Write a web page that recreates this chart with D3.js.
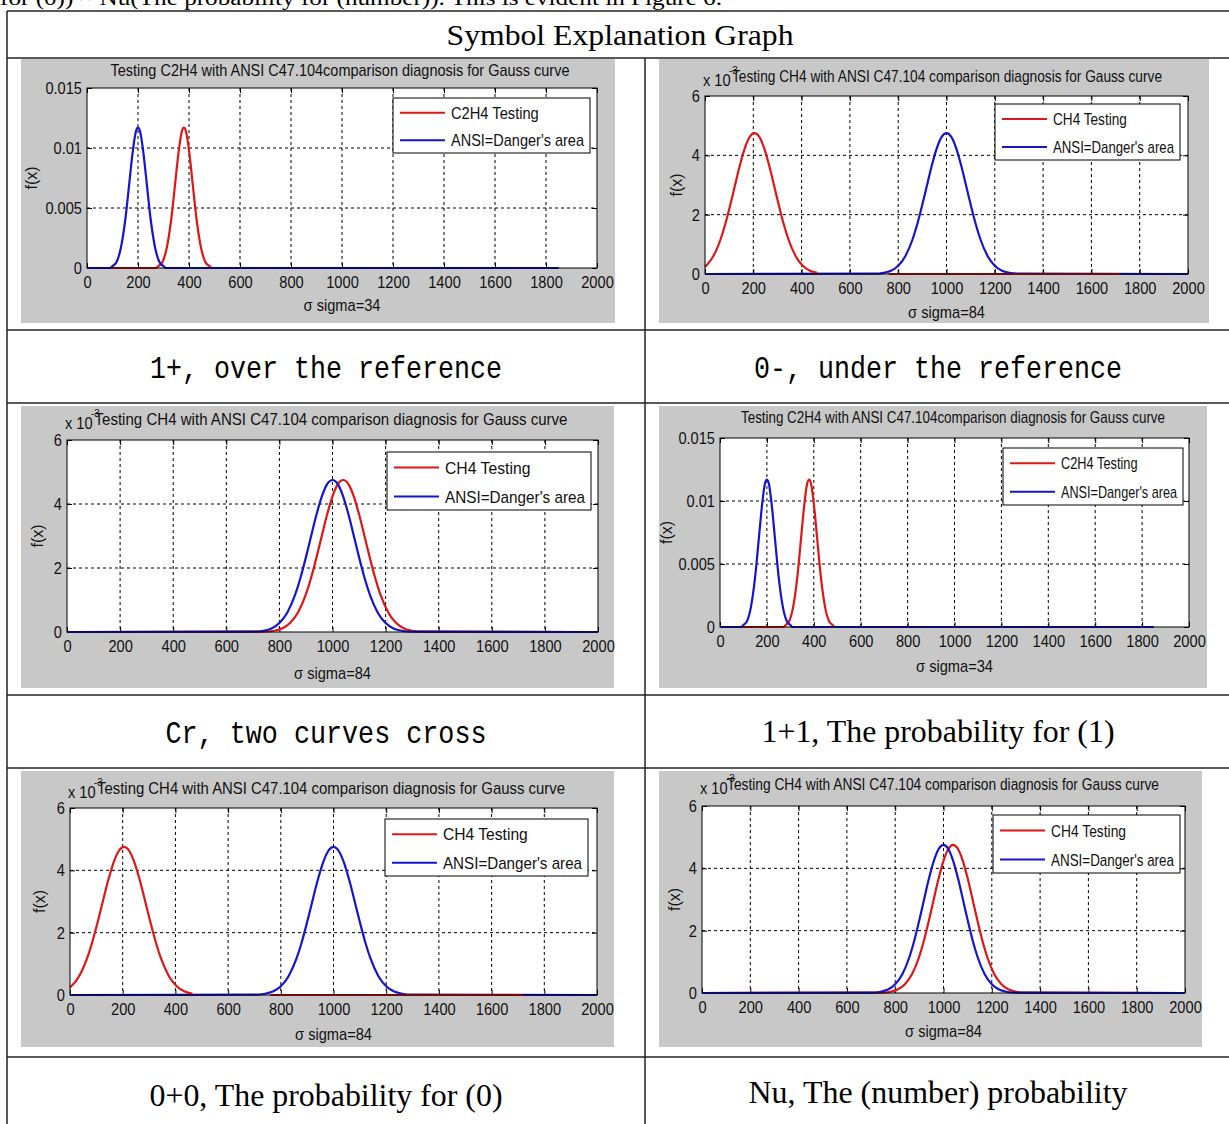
<!DOCTYPE html>
<html lang="en">
<head>
<meta charset="UTF-8">
<title>Symbol Explanation Graph</title>
<style>
  body { margin: 0; background: #fff; }
  svg { display: block; }
  .grid line { stroke: #000; stroke-width: 1; stroke-dasharray: 3,3; }
  .axis path { display: none; }
  .axis line { stroke: #000; }
  .axis text { font-family: "Liberation Sans", Arial, sans-serif; font-size: 17px; fill: #111; }
  .mtext { font-family: "Liberation Sans", Arial, sans-serif; fill: #111; }
  .serif { font-family: "Liberation Serif", "Times New Roman", serif; fill: #000; }
  .mono { font-family: "Liberation Mono", "DejaVu Sans Mono", monospace; fill: #000; }
</style>
</head>
<body>
<script src="https://cdn.jsdelivr.net/npm/d3@7"></script>
<script>
var width = 1229, height = 1124;

// axis ticks
var xTicks = [0, 200, 400, 600, 800, 1000, 1200, 1400, 1600, 1800, 2000];
var yTicksC2H4 = [0, 0.005, 0.01, 0.015];
var yTicksCH4 = [0, 2, 4, 6];   // x 10^-3

// C2H4, sigma = 34 : testing curve (red) and ANSI curve (blue)
var c2h4TestX = [0, 270, 280, 296, 312, 330, 346, 360, 372, 380, 388, 400, 414, 430, 448, 464, 480, 490, 670];
var c2h4TestY = [0, 0, 0.00016, 0.0005, 0.0016, 0.0040, 0.0071, 0.0098, 0.0114, 0.0117, 0.0114, 0.0098, 0.0071, 0.0040, 0.0016, 0.0005, 0.00016, 0, 0];
var c2h4AnsiX = [0, 90, 100, 116, 132, 150, 166, 180, 192, 200, 208, 220, 234, 250, 268, 284, 300, 310, 1850];
var c2h4AnsiY = [0, 0, 0.00016, 0.0005, 0.0016, 0.0040, 0.0071, 0.0098, 0.0114, 0.0117, 0.0114, 0.0098, 0.0071, 0.0040, 0.0016, 0.0005, 0.00016, 0, 0];

// CH4, sigma = 84 (values in 10^-3)
var ch4LowX = [0, 25, 45, 65, 85, 105, 121, 145, 165, 185, 205, 225, 245, 265, 289, 305, 325, 345, 375, 405, 435, 465, 470, 760, 1720];
var ch4LowY = [0.24, 0.48, 0.77, 1.18, 1.71, 2.34, 2.88, 3.68, 4.24, 4.62, 4.75, 4.62, 4.24, 3.68, 2.88, 2.34, 1.71, 1.18, 0.61, 0.28, 0.11, 0.04, null, 0, 0];
var ch4AnsiX = [0, 700, 740, 770, 800, 830, 860, 880, 900, 916, 940, 960, 980, 1000, 1020, 1040, 1060, 1084, 1100, 1120, 1140, 1170, 1200, 1230, 1260, 1300, 2000];
var ch4AnsiY = [0, 0.01, 0.04, 0.11, 0.28, 0.61, 1.18, 1.71, 2.34, 2.88, 3.68, 4.24, 4.62, 4.75, 4.62, 4.24, 3.68, 2.88, 2.34, 1.71, 1.18, 0.61, 0.28, 0.11, 0.04, 0.01, 0];
var ch4CrossX = [0, 740, 780, 810, 840, 870, 900, 920, 940, 956, 980, 1000, 1020, 1040, 1060, 1080, 1100, 1124, 1140, 1160, 1180, 1210, 1240, 1270, 1300, 1340, 2000];
var ch4CrossY = [0, 0.01, 0.04, 0.11, 0.28, 0.61, 1.18, 1.71, 2.34, 2.88, 3.68, 4.24, 4.62, 4.75, 4.62, 4.24, 3.68, 2.88, 2.34, 1.71, 1.18, 0.61, 0.28, 0.11, 0.04, 0.01, 0];

var titleC2H4 = 'Testing C2H4 with ANSI C47.104comparison diagnosis for Gauss curve';
var titleCH4 = 'Testing CH4 with ANSI C47.104 comparison diagnosis for Gauss curve';
var RED = '#e01515', BLUE = '#1515d0';

var svg = d3.select('body').append('svg').attr('width', width).attr('height', height);
svg.append('rect').attr('width', width).attr('height', height).attr('fill', '#fff');

// squeeze text horizontally, like the narrow MATLAB screenshot font
function condense(sel, k) {
  sel.each(function() {
    var n = this.getComputedTextLength();
    d3.select(this).attr('textLength', n * k).attr('lengthAdjust', 'spacingAndGlyphs');
  });
}

// sentence cut off at the top of the page
svg.append('text').attr('class', 'serif').attr('x', 0).attr('y', 5)
  .attr('font-size', 20).attr('textLength', 722).attr('lengthAdjust', 'spacingAndGlyphs')
  .text('for (0)) ~ Nu(The probability for (number)). This is evident in Figure 6.');

// table lines
var hLines = [11, 58, 330, 403, 695, 768, 1057];
svg.selectAll('.hline').data(hLines).enter().append('line')
  .attr('x1', 7).attr('x2', width).attr('y1', function(d){ return d; }).attr('y2', function(d){ return d; })
  .attr('stroke', '#222').attr('stroke-width', 1.5);
svg.append('line').attr('x1', 7).attr('x2', 7).attr('y1', 11).attr('y2', height).attr('stroke', '#222').attr('stroke-width', 1.5);
svg.append('line').attr('x1', 645).attr('x2', 645).attr('y1', 58).attr('y2', height).attr('stroke', '#222').attr('stroke-width', 1.5);

svg.append('text').attr('class', 'serif').attr('x', 620).attr('y', 45).attr('text-anchor', 'middle')
  .attr('font-size', 30).attr('textLength', 347).attr('lengthAdjust', 'spacingAndGlyphs')
  .text('Symbol Explanation Graph');

function cellText(txt, cx, by, len, cls) {
  svg.append('text').attr('class', cls).attr('x', cx - len / 2).attr('y', by)
    .attr('font-size', 32).attr('textLength', len).attr('lengthAdjust', 'spacingAndGlyphs')
    .text(txt);
}
cellText('1+, over the reference', 326, 378, 352, 'mono');
cellText('0-, under the reference', 938, 378, 368, 'mono');
cellText('Cr, two curves cross', 326, 743, 321, 'mono');
cellText('1+1, The probability for (1)', 938, 742, 353, 'serif');
cellText('0+0, The probability for (0)', 326, 1106, 353, 'serif');
cellText('Nu, The (number) probability', 938, 1103, 379, 'serif');

function drawPanel(p) {
  var g = svg.append('g');
  var a = p.axes;
  g.append('rect').attr('x', p.gray[0]).attr('y', p.gray[1])
    .attr('width', p.gray[2] - p.gray[0]).attr('height', p.gray[3] - p.gray[1]).attr('fill', '#c8c8c8');
  g.append('rect').attr('x', a[0]).attr('y', a[1]).attr('width', a[2] - a[0]).attr('height', a[3] - a[1]).attr('fill', '#fff');

  var x = d3.scaleLinear().domain([0, 2000]).range([a[0], a[2]]);
  var y = d3.scaleLinear().domain([0, d3.max(p.yTicks)]).range([a[3], a[1]]);

  var grid = g.append('g').attr('class', 'grid');
  grid.selectAll('.gx').data(xTicks.slice(1, -1)).enter().append('line')
    .attr('x1', function(d){ return x(d); }).attr('x2', function(d){ return x(d); })
    .attr('y1', a[1]).attr('y2', a[3]);
  grid.selectAll('.gy').data(p.yTicks.slice(1, -1)).enter().append('line')
    .attr('y1', function(d){ return y(d); }).attr('y2', function(d){ return y(d); })
    .attr('x1', a[0]).attr('x2', a[2]);

  var bx = g.append('g').attr('class', 'axis').attr('transform', 'translate(0,' + a[3] + ')')
    .call(d3.axisBottom(x).tickValues(xTicks).tickSize(-5).tickPadding(8).tickFormat(function(d){ return String(d); }));
  g.append('g').attr('class', 'axis').attr('transform', 'translate(0,' + a[1] + ')')
    .call(d3.axisTop(x).tickValues(xTicks).tickSize(-5).tickFormat(''));
  var ly = g.append('g').attr('class', 'axis').attr('transform', 'translate(' + a[0] + ',0)')
    .call(d3.axisLeft(y).tickValues(p.yTicks).tickSize(-5).tickPadding(5).tickFormat(function(d){ return String(d); }));
  g.append('g').attr('class', 'axis').attr('transform', 'translate(' + a[2] + ',0)')
    .call(d3.axisRight(y).tickValues(p.yTicks).tickSize(-5).tickFormat(''));
  condense(bx.selectAll('text'), 0.86);
  condense(ly.selectAll('text'), 0.86);

  var line = d3.line()
    .defined(function(d){ return d[1] != null; })
    .x(function(d){ return x(d[0]); })
    .y(function(d){ return y(d[1]); })
    .curve(d3.curveMonotoneX);
  p.series.forEach(function(s) {
    g.append('path').datum(d3.zip(s.xs, s.ys)).attr('d', line)
      .attr('fill', 'none').attr('stroke', s.color).attr('stroke-width', 2.2);
  });

  g.append('rect').attr('x', a[0]).attr('y', a[1]).attr('width', a[2] - a[0]).attr('height', a[3] - a[1])
    .attr('fill', 'none').attr('stroke', '#000').attr('stroke-width', 1);

  // title, labels
  g.append('text').attr('class', 'mtext').attr('x', p.titleX - p.titleLen / 2).attr('y', p.titleY + 6)
    .attr('font-size', 17).attr('textLength', p.titleLen).attr('lengthAdjust', 'spacingAndGlyphs').text(p.title);
  if (p.exp) {
    condense(g.append('text').attr('class', 'mtext').attr('x', a[0] - 2).attr('y', p.titleY + 10)
      .attr('font-size', 17).text('x 10'), 0.86);
    g.append('text').attr('class', 'mtext').attr('x', a[0] + 24).attr('y', p.titleY - 2)
      .attr('font-size', 10).text('-3');
  }
  condense(g.append('text').attr('class', 'mtext').attr('x', (a[0] + a[2]) / 2).attr('y', p.xlabY + 6)
    .attr('text-anchor', 'middle').attr('font-size', 17).text(p.xlab), 0.86);
  g.append('text').attr('class', 'mtext')
    .attr('transform', 'translate(' + (p.ylabX + 5) + ',' + ((a[1] + a[3]) / 2) + ') rotate(-90)')
    .attr('text-anchor', 'middle').attr('font-size', 16).text('f(x)');

  // legend
  var L = p.legend, lw = L[2] - L[0];
  g.append('rect').attr('x', L[0]).attr('y', L[1]).attr('width', lw).attr('height', L[3] - L[1])
    .attr('fill', '#fff').attr('stroke', '#000').attr('stroke-width', 1);
  var rowH = (L[3] - L[1]) / 2;
  p.legendItems.forEach(function(it, i) {
    var yy = L[1] + rowH * (i + 0.5) + 1;
    g.append('line').attr('x1', L[0] + 7).attr('x2', L[0] + 52).attr('y1', yy).attr('y2', yy)
      .attr('stroke', it.color).attr('stroke-width', 2.2);
    g.append('text').attr('class', 'mtext').attr('x', L[0] + 58).attr('y', yy + 6)
      .attr('font-size', 17).attr('textLength', (lw - 64) * it.frac).attr('lengthAdjust', 'spacingAndGlyphs')
      .text(it.label);
  });
}

var c2h4Series = [
  { xs: c2h4TestX, ys: c2h4TestY, color: RED },
  { xs: c2h4AnsiX, ys: c2h4AnsiY, color: BLUE }
];
var ch4UnderSeries = [
  { xs: ch4AnsiX, ys: ch4AnsiY, color: BLUE },
  { xs: ch4LowX, ys: ch4LowY, color: RED }
];
var ch4CrossSeries = [
  { xs: ch4CrossX, ys: ch4CrossY, color: RED },
  { xs: ch4AnsiX, ys: ch4AnsiY, color: BLUE }
];
var c2h4Legend = [{ label: 'C2H4 Testing', color: RED, frac: 0.66 }, { label: "ANSI=Danger's area", color: BLUE, frac: 1 }];
var ch4Legend = [{ label: 'CH4 Testing', color: RED, frac: 0.61 }, { label: "ANSI=Danger's area", color: BLUE, frac: 1 }];

var panels = [
  { gray: [21, 59, 615, 323], axes: [87, 88, 597, 268], yTicks: yTicksC2H4, series: c2h4Series,
    title: titleC2H4, titleX: 340, titleY: 70, titleLen: 459, exp: false, xlab: '\u03c3 sigma=34', xlabY: 305, ylabX: 32,
    legend: [393, 98, 590, 153], legendItems: c2h4Legend },
  { gray: [659, 59, 1209, 323], axes: [705, 96, 1188, 274], yTicks: yTicksCH4, series: ch4UnderSeries,
    title: titleCH4, titleX: 947, titleY: 76, titleLen: 430, exp: true, xlab: '\u03c3 sigma=84', xlabY: 312, ylabX: 677,
    legend: [995, 104, 1180, 160], legendItems: ch4Legend },
  { gray: [21, 406, 614, 688], axes: [67, 440, 598, 632], yTicks: yTicksCH4, series: ch4CrossSeries,
    title: titleCH4, titleX: 331, titleY: 419, titleLen: 473, exp: true, xlab: '\u03c3 sigma=84', xlabY: 673, ylabX: 38,
    legend: [387, 452, 591, 510], legendItems: ch4Legend },
  { gray: [659, 406, 1207, 688], axes: [720, 438, 1189, 627], yTicks: yTicksC2H4, series: c2h4Series,
    title: titleC2H4, titleX: 953, titleY: 417, titleLen: 424, exp: false, xlab: '\u03c3 sigma=34', xlabY: 666, ylabX: 667,
    legend: [1003, 448, 1183, 505], legendItems: c2h4Legend },
  { gray: [21, 771, 614, 1047], axes: [70, 808, 597, 995], yTicks: yTicksCH4, series: ch4UnderSeries,
    title: titleCH4, titleX: 331, titleY: 788, titleLen: 468, exp: true, xlab: '\u03c3 sigma=84', xlabY: 1034, ylabX: 40,
    legend: [385, 819, 588, 876], legendItems: ch4Legend },
  { gray: [659, 771, 1202, 1047], axes: [702, 806, 1185, 993], yTicks: yTicksCH4, series: ch4CrossSeries,
    title: titleCH4, titleX: 943, titleY: 784, titleLen: 432, exp: true, xlab: '\u03c3 sigma=84', xlabY: 1031, ylabX: 675,
    legend: [993, 815, 1180, 873], legendItems: ch4Legend }
];
panels.forEach(drawPanel);
</script>
</body>
</html>
